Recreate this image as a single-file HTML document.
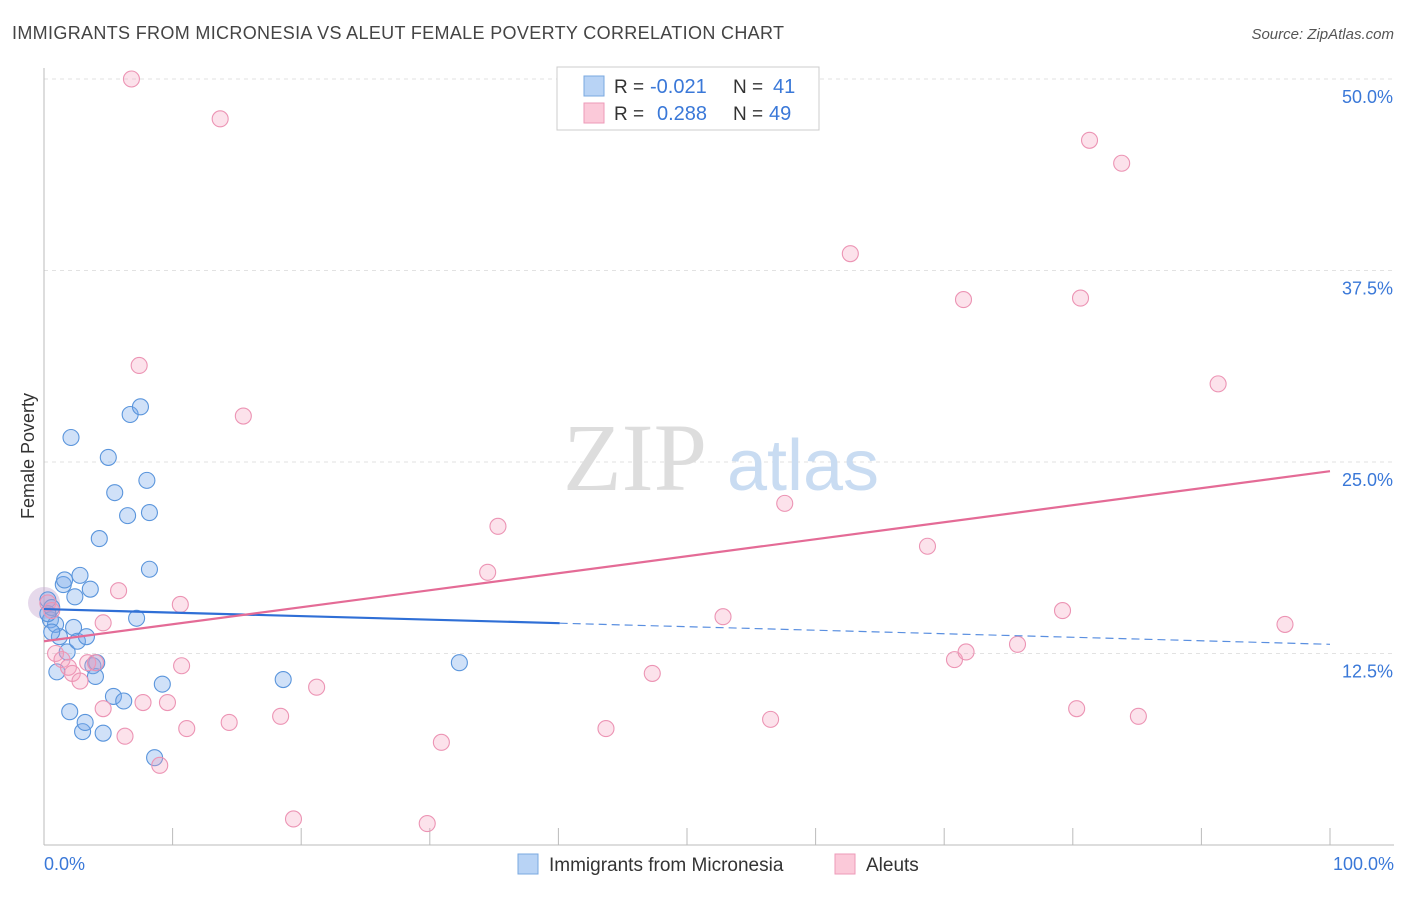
<!DOCTYPE html>
<html><head><meta charset="utf-8"><style>
body{margin:0;background:#fff;font-family:"Liberation Sans",sans-serif;}
</style></head><body>
<svg width="1406" height="892" xmlns="http://www.w3.org/2000/svg" style="font-family:'Liberation Sans',sans-serif">
<text x="12" y="39" font-size="18" fill="#444" textLength="772">IMMIGRANTS FROM MICRONESIA VS ALEUT FEMALE POVERTY CORRELATION CHART</text>
<text x="1394" y="39" font-size="15" fill="#555" text-anchor="end" font-style="italic">Source: ZipAtlas.com</text>
<g id="grid"></g>
<text x="635" y="490" font-size="96" fill="#ddd" font-family="Liberation Serif" text-anchor="middle">ZIP</text>
<text x="803" y="490" font-size="72" fill="#c9dcf2" text-anchor="middle">atlas</text>
<text x="34" y="456" font-size="18" fill="#333" text-anchor="middle" transform="rotate(-90 34 456)">Female Poverty</text>
<g id="marks"></g>
<g>
<rect x="557" y="67" width="262" height="63" fill="#fff" stroke="#ccc"/>
<rect x="584" y="76" width="20" height="20" fill="#b8d3f5" stroke="#7aa8e0"/>
<rect x="584" y="103" width="20" height="20" fill="#fbc9d9" stroke="#ee9ab8"/>
<text x="614" y="93" font-size="19" fill="#333">R =</text>
<text x="650" y="93" font-size="20" fill="#3a78d8">-0.021</text>
<text x="733" y="93" font-size="19" fill="#333">N =</text>
<text x="773" y="93" font-size="20" fill="#3a78d8">41</text>
<text x="614" y="120" font-size="19" fill="#333">R =</text>
<text x="657" y="120" font-size="20" fill="#3a78d8">0.288</text>
<text x="733" y="120" font-size="19" fill="#333">N =</text>
<text x="769" y="120" font-size="20" fill="#3a78d8">49</text>
</g>
<g>
<rect x="518" y="854" width="20" height="20" fill="#b8d3f5" stroke="#7aa8e0"/>
<text x="549" y="871" font-size="19" fill="#333">Immigrants from Micronesia</text>
<rect x="835" y="854" width="20" height="20" fill="#fbc9d9" stroke="#ee9ab8"/>
<text x="866" y="871" font-size="19" fill="#333">Aleuts</text>
</g>
<text x="44" y="870" font-size="18" fill="#3a78d8">0.0%</text>
<text x="1394" y="870" font-size="18" fill="#3a78d8" text-anchor="end">100.0%</text>
</svg>
<script>
const yTicks=[12.5,25,37.5,50];
const yTickLabels=["12.5%","25.0%","37.5%","50.0%"];
const xTicks=[0,10,20,30,40,50,60,70,80,90,100];
const blueX=[0.3,0.5,0.6,0.9,1.0,1.2,1.5,1.6,1.8,2.0,2.1,2.3,2.4,2.6,2.8,3.0,3.2,3.3,3.6,3.8,4.0,4.1,4.3,4.6,5.0,5.4,5.5,6.2,6.5,6.7,7.2,7.5,8.0,8.2,8.2,8.6,9.2,18.6,32.3,0.3,0.6];
const blueY=[16.0,14.7,15.5,14.4,11.3,13.6,17.0,17.3,12.6,8.7,26.6,14.2,16.2,13.3,17.6,7.4,8.0,13.6,16.7,11.7,11.0,11.9,20.0,7.3,25.3,9.7,23.0,9.4,21.5,28.1,14.8,28.6,23.8,21.7,18.0,5.7,10.5,10.8,11.9,15.1,13.9];
const pinkX=[6.8,13.7,7.4,15.5,0.3,0.6,0.9,1.4,1.9,2.2,2.8,3.4,4.0,4.6,4.6,5.8,6.3,7.7,9.0,9.6,10.6,10.7,11.1,14.4,18.4,19.4,21.2,29.8,30.9,34.5,35.3,43.7,47.3,52.8,56.5,57.6,62.7,68.7,70.8,71.5,71.7,75.7,79.2,80.3,80.6,81.3,83.8,85.1,91.3,96.5];
const pinkY=[50.0,47.4,31.3,28.0,15.8,15.3,12.5,12.1,11.6,11.2,10.7,11.9,11.9,14.5,8.9,16.6,7.1,9.3,5.2,9.3,15.7,11.7,7.6,8.0,8.4,1.7,10.3,1.4,6.7,17.8,20.8,7.6,11.2,14.9,8.2,22.3,38.6,19.5,12.1,35.6,12.6,13.1,15.3,8.9,35.7,46.0,44.5,8.4,30.1,14.4];
const blueTrend=[15.4,13.1];
const blueSolidEnd=40.1;
const pinkTrend=[13.3,24.4];
const NS="http://www.w3.org/2000/svg";
const X0=44,X1=1330,Y0=845,PPU=15.32;
function sx(v){return X0+(X1-X0)*v/100;}
function sy(v){return Y0-v*PPU;}
function mk(t,a,p){const e=document.createElementNS(NS,t);for(const k in a)e.setAttribute(k,a[k]);p.appendChild(e);return e;}
const grid=document.getElementById('grid'),marks=document.getElementById('marks');
mk('line',{x1:44,y1:79,x2:1394,y2:79,stroke:'#ddd','stroke-dasharray':'4,4'},grid);
yTicks.forEach((t,i)=>{
 const l=mk('line',{x1:44,y1:sy(t),x2:1394,y2:sy(t),stroke:'#e2e2e2','stroke-dasharray':'4,4'},grid);
 
 
 const tx=mk('text',{x:1393,y:sy(t)+24,'font-size':18,fill:'#3a78d8','text-anchor':'end'},grid);
 tx.textContent=yTickLabels[i];
 
 
});
mk('line',{x1:44,y1:68,x2:44,y2:845,stroke:'#bbb'},grid);
mk('line',{x1:44,y1:845,x2:1394,y2:845,stroke:'#bbb'},grid);
xTicks.forEach(t=>{if(t>0){const l=mk('line',{x1:sx(t),y1:828,x2:sx(t),y2:845,stroke:'#bbb'},grid);
 
 }});
mk('circle',{cx:sx(0),cy:sy(15.8),r:16,fill:'rgba(200,170,210,0.45)',stroke:'none'},marks);
blueX.forEach((x,i)=>{const c=mk('circle',{cx:sx(x),cy:sy(blueY[i]),r:8,fill:'rgba(120,170,235,0.35)',stroke:'#5a95dc','stroke-width':1.1},marks);
 
 });
pinkX.forEach((x,i)=>{const c=mk('circle',{cx:sx(x),cy:sy(pinkY[i]),r:8,fill:'rgba(245,160,190,0.3)',stroke:'#ec94b4','stroke-width':1.1},marks);
 
 });
function by(x){return blueTrend[0]+(blueTrend[1]-blueTrend[0])*x/100;}
let l1=mk('line',{x1:sx(0),y1:sy(by(0)),x2:sx(blueSolidEnd),y2:sy(by(blueSolidEnd)),stroke:'#2f6fd6','stroke-width':2.2},marks);


let l2=mk('line',{x1:sx(blueSolidEnd),y1:sy(by(blueSolidEnd)),x2:sx(100),y2:sy(by(100)),stroke:'#5a8fe0','stroke-width':1.2,'stroke-dasharray':'8,5'},marks);


let l3=mk('line',{x1:sx(0),y1:sy(pinkTrend[0]),x2:sx(100),y2:sy(pinkTrend[1]),stroke:'#e46b96','stroke-width':2.2},marks);


</script>
</body></html>
